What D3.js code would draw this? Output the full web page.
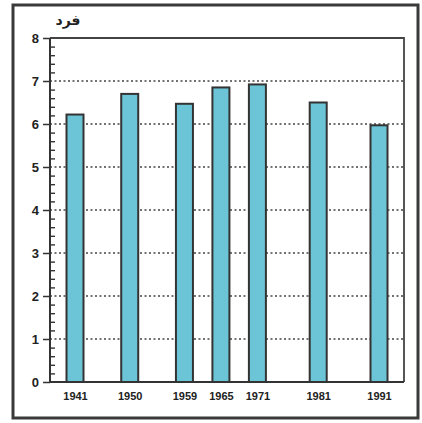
<!DOCTYPE html>
<html>
<head>
<meta charset="utf-8">
<script src="https://cdn.jsdelivr.net/npm/d3@7"></script>
<style>
  html, body { margin: 0; padding: 0; background: #fff; }
  svg { display: block; font-family: "Liberation Sans", Arial, sans-serif; }
</style>
</head>
<body>
<div id="chart"></div>
<script>
// Bar chart – household size (فرد) by census year

const years = [1941, 1950, 1959, 1965, 1971, 1981, 1991];
const values = [6.22, 6.7, 6.47, 6.85, 6.92, 6.5, 5.97];
const yTicks = [0, 1, 2, 3, 4, 5, 6, 7, 8];
const yTitle = "فرد";

const width = 422;
const height = 423;
const margin = { top: 38, right: 18, bottom: 41, left: 50 };

const svg = d3.select("#chart")
  .append("svg")
  .attr("width", width)
  .attr("height", height);

// outer frame
svg.append("rect")
  .attr("x", 13)
  .attr("y", 5)
  .attr("width", width - 17)
  .attr("height", height - 10)
  .attr("fill", "none")
  .attr("stroke", "#3a3a3a")
  .attr("stroke-width", 3);

const x = d3.scaleLinear()
  .domain([1941, 1991])
  .range([75, 379]);

const y = d3.scaleLinear()
  .domain([0, 8])
  .range([height - margin.bottom, margin.top]);

const right = width - margin.right;

// dotted gridlines
svg.append("g")
  .selectAll("line")
  .data(yTicks.filter(d => d > 0 && d < 8))
  .enter()
  .append("line")
  .attr("x1", margin.left)
  .attr("x2", right)
  .attr("y1", d => y(d))
  .attr("y2", d => y(d))
  .attr("stroke", "#444")
  .attr("stroke-width", 1.3)
  .attr("stroke-dasharray", "2 2.5");

// top and right frame of plot
svg.append("path")
  .attr("d", `M${margin.left},${y(8)}H${right}V${y(0)}`)
  .attr("fill", "none")
  .attr("stroke", "#444")
  .attr("stroke-width", 1.8);

// bars
const barW = 17;
svg.selectAll("rect.bar")
  .data(years)
  .enter()
  .append("rect")
  .attr("class", "bar")
  .attr("x", d => x(d) - barW / 2)
  .attr("y", (d, i) => y(values[i]))
  .attr("width", barW)
  .attr("height", (d, i) => y(0) - y(values[i]))
  .attr("fill", "#6cc5d7")
  .attr("stroke", "#333")
  .attr("stroke-width", 2);

// x axis
const xAxis = svg.append("g")
  .attr("transform", `translate(0,${y(0)})`)
  .call(d3.axisBottom(x).tickValues(years).tickFormat(d3.format("d")).tickSize(0).tickPadding(10));
xAxis.select(".domain")
  .attr("d", `M${margin.left},0H${right}`)
  .attr("stroke", "#333")
  .attr("stroke-width", 2);
xAxis.selectAll("text")
  .attr("fill", "#222")
  .style("font-size", "11px")
  .style("font-weight", "bold");

// y axis: major ticks to the left, minor ticks to the right
const yAxis = svg.append("g")
  .attr("transform", `translate(${margin.left},0)`)
  .call(d3.axisLeft(y).tickValues(yTicks).tickSize(7).tickPadding(4));
yAxis.select(".domain")
  .attr("d", `M0,${y(8)}V${y(0)}`)
  .attr("stroke", "#333")
  .attr("stroke-width", 2);
yAxis.selectAll(".tick line")
  .attr("stroke", "#333")
  .attr("stroke-width", 1.5);
yAxis.selectAll("text")
  .attr("fill", "#222")
  .style("font-size", "13px")
  .style("font-weight", "bold");

const minor = d3.range(0, 8, 0.2).filter(d => Math.abs(d - Math.round(d)) > 0.01);
svg.append("g")
  .attr("transform", `translate(${margin.left},0)`)
  .call(d3.axisRight(y).tickValues(minor).tickSize(5).tickFormat(""))
  .call(g => g.select(".domain").remove())
  .selectAll(".tick line")
  .attr("stroke", "#333")
  .attr("stroke-width", 1.4);

// axis title
svg.append("text")
  .attr("x", 68)
  .attr("y", 25)
  .attr("text-anchor", "middle")
  .attr("direction", "rtl")
  .attr("fill", "#222")
  .style("font-size", "14px")
  .style("font-weight", "bold")
  .style("font-family", "'DejaVu Sans', 'Noto Sans', sans-serif")
  .text(yTitle);
</script>
</body>
</html>
